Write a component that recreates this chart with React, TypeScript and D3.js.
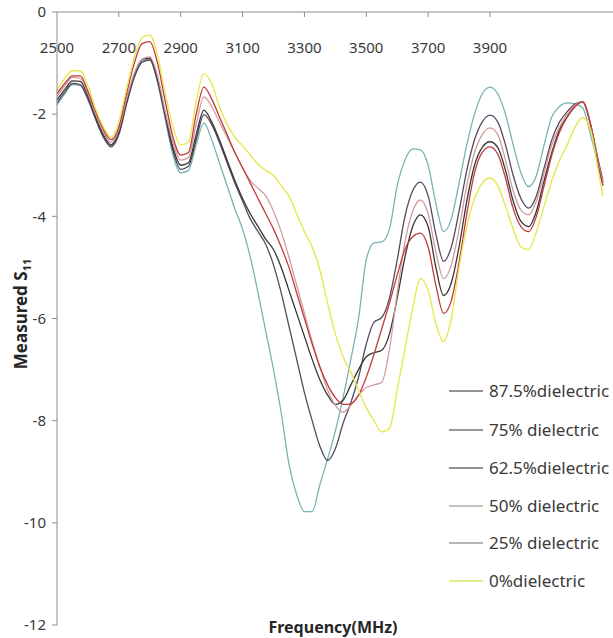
import React from 'react';
import * as d3 from 'd3';

const FREQUENCIES = [
  2500, 2525, 2550, 2575, 2600, 2625, 2650, 2675, 2700, 2725, 2750, 2775, 2800, 2825, 2850, 2875, 2900, 2925, 2950, 2975,
  3000, 3025, 3050, 3075, 3100, 3125, 3150, 3175, 3200, 3225, 3250, 3275, 3300, 3325, 3350, 3375, 3400, 3425, 3450, 3475,
  3500, 3525, 3550, 3575, 3600, 3625, 3650, 3675, 3700, 3725, 3750, 3775, 3800, 3825, 3850, 3875, 3900, 3925, 3950, 3975,
  4000, 4025, 4050, 4075, 4100, 4125, 4150, 4175, 4200, 4225, 4250, 4265,
];

const S11_87_5 = [
  -1.72, -1.52, -1.35, -1.36, -1.65, -2.05, -2.4, -2.6, -2.35, -1.75, -1.22, -0.93, -0.9, -1.3, -2.0, -2.65, -3.0, -2.95, -2.4, -1.92,
  -2.15, -2.5, -2.9, -3.3, -3.65, -3.95, -4.2, -4.45, -4.65, -5.0, -5.45, -5.9, -6.35, -6.8, -7.2, -7.5, -7.68, -7.6, -7.3, -7.0,
  -6.75, -6.67, -6.62, -6.3, -5.6, -4.8, -4.2, -3.97, -4.2, -5.0, -5.55, -5.3, -4.6, -3.7, -3.0, -2.65, -2.54, -2.65, -3.1, -3.7,
  -4.1, -4.2, -3.9, -3.3, -2.75, -2.3, -2.05, -1.85, -1.76, -2.2, -2.95, -3.35,
];

const S11_75 = [
  -1.78, -1.57, -1.4, -1.42, -1.7, -2.1, -2.45, -2.64, -2.4, -1.8, -1.28, -0.98, -0.94, -1.35, -2.05, -2.72, -3.08, -3.02, -2.5, -2.01,
  -2.2, -2.55, -2.95, -3.35, -3.7, -4.05, -4.3, -4.55, -4.95, -5.5, -6.15, -6.8, -7.45, -8.0, -8.5, -8.78, -8.55, -8.05, -7.65, -7.15,
  -6.5, -6.07, -5.98, -5.6, -4.85, -4.0, -3.5, -3.33, -3.6, -4.35, -4.88, -4.6, -3.9, -3.1, -2.5, -2.15, -2.02, -2.15, -2.6, -3.2,
  -3.65, -3.84, -3.6, -3.05, -2.5, -2.15, -1.95, -1.8, -1.76, -2.2, -2.9, -3.3,
];

const S11_62_5 = [
  -1.6, -1.4, -1.25, -1.25, -1.55, -1.95, -2.3, -2.5, -2.25, -1.6, -1.0, -0.62, -0.58, -1.0, -1.75, -2.45, -2.8, -2.75, -2.0, -1.47,
  -1.7, -2.05, -2.4, -2.75, -3.05, -3.35, -3.65, -3.95, -4.25, -4.6, -5.0, -5.5, -6.0, -6.5, -6.95, -7.3, -7.55, -7.68, -7.67, -7.5,
  -7.15, -6.7, -6.2, -5.7, -5.15, -4.65, -4.4, -4.33, -4.6, -5.35, -5.9, -5.65, -4.9, -3.95, -3.15, -2.75, -2.64, -2.78, -3.25, -3.85,
  -4.2, -4.3, -4.0, -3.4, -2.8, -2.35, -2.05, -1.85, -1.76, -2.2, -3.0, -3.4,
];

const S11_50 = [
  -1.82, -1.6, -1.42, -1.44, -1.72, -2.1, -2.45, -2.62, -2.38, -1.78, -1.27, -0.97, -0.93, -1.38, -2.1, -2.8, -3.15, -3.1, -2.6, -2.17,
  -2.5, -2.95, -3.4, -3.85, -4.25, -4.8, -5.5, -6.25, -7.0, -7.85, -8.85, -9.45, -9.78, -9.78, -9.25, -8.75, -8.2, -7.55, -6.8, -6.0,
  -4.85, -4.52, -4.5, -4.25, -3.4, -2.9, -2.68, -2.7, -3.0, -3.75, -4.3, -4.05, -3.35, -2.6, -2.0, -1.6, -1.47, -1.6, -2.0, -2.6,
  -3.15, -3.42, -3.2, -2.6, -2.05, -1.85, -1.78, -1.8, -1.88, -2.4, -3.0, -3.4,
];

const S11_25 = [
  -1.65, -1.45, -1.28, -1.3, -1.6, -2.0, -2.35, -2.55, -2.3, -1.7, -1.2, -0.92, -0.88, -1.25, -1.95, -2.55, -2.9, -2.85, -2.2, -1.66,
  -1.85, -2.15, -2.45, -2.75, -3.05, -3.3, -3.45, -3.6, -3.9, -4.3, -4.8, -5.35, -5.9, -6.45, -6.95, -7.4, -7.7, -7.83, -7.7, -7.5,
  -7.35, -7.3, -7.25, -6.6, -5.5, -4.5, -3.9, -3.68, -3.95, -4.7, -5.22, -4.95, -4.25, -3.4, -2.75, -2.4, -2.27, -2.4, -2.9, -3.5,
  -3.88, -3.97, -3.7, -3.15, -2.6, -2.25, -2.0, -1.83, -1.76, -2.2, -2.95, -3.35,
];

const S11_0 = [
  -1.53, -1.3, -1.15, -1.15, -1.45, -1.9, -2.25, -2.45, -2.15, -1.5, -0.9, -0.5, -0.45, -0.85, -1.6, -2.25, -2.6, -2.55, -1.75, -1.2,
  -1.4, -1.85, -2.2, -2.45, -2.62, -2.8, -2.98, -3.1, -3.2, -3.4, -3.6, -3.95, -4.3, -4.6, -5.05, -5.7, -6.3, -6.75, -7.05, -7.4,
  -7.75, -8.0, -8.22, -8.15, -7.4, -6.6, -5.8, -5.22, -5.45, -6.1, -6.45, -6.0, -5.0, -4.2, -3.65, -3.35, -3.25, -3.4, -3.8, -4.25,
  -4.6, -4.65, -4.3, -3.8, -3.3, -2.9, -2.6, -2.25, -2.07, -2.3, -3.1, -3.6,
];

const SERIES_NAMES = [
  '87.5%dielectric',
  '75% dielectric',
  '62.5%dielectric',
  '50% dielectric',
  '25% dielectric',
  '0%dielectric',
];
const SERIES_VALUES = [S11_87_5, S11_75, S11_62_5, S11_50, S11_25, S11_0];

const X_TICKS = [2500, 2700, 2900, 3100, 3300, 3500, 3700, 3900];
const Y_TICKS = [0, -2, -4, -6, -8, -10, -12];

const LINE_COLORS = ['#353535', '#56495f', '#c23a3c', '#7ab3b3', '#d29c9c', '#e6e644'];
const LEGEND_COLORS = ['#2a2a2a', '#2e2e3a', '#2e2525', '#8a8a8a', '#6a6a6a', '#c9d62a'];
const DRAW_ORDER = [3, 1, 0, 4, 2, 5];

export default function App() {
  const W = 613;
  const H = 638;
  const x = d3.scaleLinear().domain([2500, 3900]).range([57, 490]);
  const y = d3.scaleLinear().domain([-12, 0]).range([625, 12]);
  const font = '"Noto Sans", "DejaVu Sans", sans-serif';
  const textColor = '#3a3a3a';

  const line = d3
    .line<[number, number]>()
    .x((d) => x(d[0]))
    .y((d) => y(d[1]))
    .curve(d3.curveMonotoneX);

  const legendX = 449;
  const legendRows = [391, 430, 468, 506, 543, 581];

  return (
    <svg
      width={W}
      height={H}
      style={{ position: 'absolute', left: 0, top: 0, background: '#fff' }}
      fontFamily={font}
    >
      <rect x={0} y={0} width={W} height={H} fill="#fff" />

      {/* series */}
      {DRAW_ORDER.map((i) => {
        const pts = FREQUENCIES.map((f, k) => [f, SERIES_VALUES[i][k]] as [number, number]);
        return (
          <path
            key={SERIES_NAMES[i]}
            d={line(pts) || ''}
            fill="none"
            stroke={LINE_COLORS[i]}
            strokeWidth={1.3}
            strokeLinejoin="round"
          />
        );
      })}

      {/* top x axis at 0 */}
      <line x1={x(2500)} x2={W} y1={y(0)} y2={y(0)} stroke="#8c8c8c" strokeWidth={1} />
      {X_TICKS.filter((t) => t !== 2500).map((t) => (
        <line key={'xt' + t} x1={x(t)} x2={x(t)} y1={y(0)} y2={y(0) + 5} stroke="#8c8c8c" strokeWidth={1} />
      ))}
      {X_TICKS.map((t) => (
        <text key={'xl' + t} x={x(t)} y={53} textAnchor="middle" fontSize={15} fill={textColor}>
          {t}
        </text>
      ))}

      {/* y axis */}
      <line x1={x(2500)} x2={x(2500)} y1={y(0)} y2={y(-12)} stroke="#8c8c8c" strokeWidth={1} />
      {Y_TICKS.map((t) => (
        <g key={'yt' + t}>
          <line x1={x(2500) - 5} x2={x(2500)} y1={y(t)} y2={y(t)} stroke="#8c8c8c" strokeWidth={1} />
          <text x={46} y={y(t)} dy="0.35em" textAnchor="end" fontSize={15} fill={textColor}>
            {t}
          </text>
        </g>
      ))}

      {/* axis titles */}
      <text x={333} y={633} textAnchor="middle" fontSize={16} fontWeight="bold" fill="#262626">
        Frequency(MHz)
      </text>
      <text
        transform="translate(27,314) rotate(-90)"
        textAnchor="middle"
        fontSize={17}
        fontWeight="bold"
        fill="#262626"
      >
        Measured S
        <tspan fontSize={11} dy={4}>
          11
        </tspan>
      </text>

      {/* legend */}
      {SERIES_NAMES.map((name, i) => (
        <g key={'lg' + name}>
          <line
            x1={legendX}
            x2={legendX + 34}
            y1={legendRows[i]}
            y2={legendRows[i]}
            stroke={LEGEND_COLORS[i]}
            strokeWidth={1}
          />
          <text x={legendX + 40} y={legendRows[i]} dy="0.35em" fontSize={17} fill={textColor}>
            {name}
          </text>
        </g>
      ))}
    </svg>
  );
}
